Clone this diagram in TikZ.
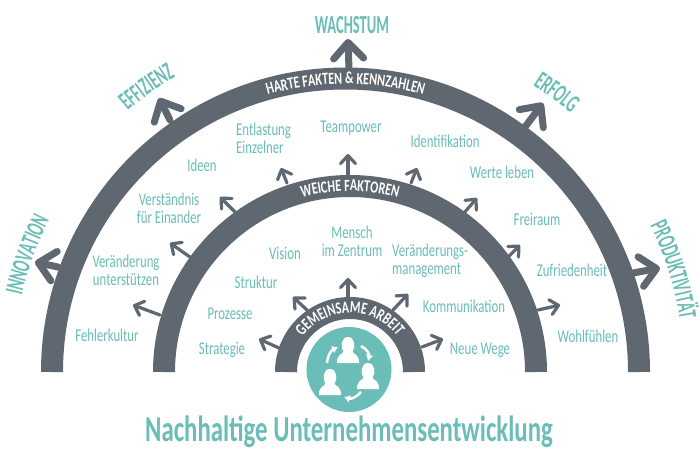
\documentclass[tikz,border=0pt]{standalone}
\usepackage{fontspec}
\usetikzlibrary{arrows.meta,decorations.text}
\newfontfamily\din[FakeStretch=.71]{Carlito}
\newfontfamily\dinband[FakeStretch=.71]{Carlito}
\newfontfamily\dinhead[FakeStretch=.56]{Carlito}
\newfontfamily\dintitle[FakeStretch=.68]{Carlito}
\definecolor{ink}{HTML}{5F6770}
\definecolor{teal}{HTML}{6BBDB7}
\newcommand{\bandfont}{\dinband\bfseries\fontsize{17}{17}\selectfont}
\newcommand{\headfont}{\dinhead\bfseries\fontsize{26}{26}\selectfont\color{teal}}
\tikzset{
  band/.style={draw=ink,line width=22pt},
  big/.style={draw=ink,line width=7pt,line cap=round,-{Straight Barb[round,length=16pt,width=30pt]}},
  small/.style={draw=ink,line width=3.2pt,line cap=round,-{Straight Barb[round,length=8pt,width=15pt]}},
  lab/.style={text=teal,font=\din\fontsize{18}{18}\selectfont,align=center,inner sep=0pt},
  swirl/.style={draw=white,line width=2.5pt,-{Latex[length=6pt,width=8pt]}},
  bust/.pic={\fill[white] (-11,0) .. controls (-11.5,-8) and (-6,-9) .. (-4.5,-11) .. controls (-8,-16) and (-7,-26) .. (0,-26) .. controls (7,-26) and (8,-16) .. (4.5,-11) .. controls (6,-9) and (11.5,-8) .. (11,0) -- cycle;}
}
\begin{document}
\begin{tikzpicture}[x=1pt,y=-1pt]
\useasboundingbox (0,0) rectangle (700,461);
\fill[white] (0,0) rectangle (700,461);
\coordinate (c) at (350,372);
\coordinate (co) at (345.5,372);
% bands
\draw[band] (co) ++(-293.5,0) arc (180:360:293.5);
\draw[band] (c) ++(-186,0) arc (180:360:186);
\draw[band] (c) ++(-64,0) arc (180:360:64);
% outer arrows
\foreach \n/\ax/\ay/\bx/\by in {a/58/267/35/262,b/170/120/159/98,d/349/70/348/39,e/525/127/543/103,f/633/273/660/268}{
  \coordinate (\n0) at (\ax,\ay); \coordinate (\n1) at (\bx,\by);
  \draw[big] (\n0) -- (\n1);
}
% middle arrows
\foreach \n/\ax/\ay/\bx/\by in {g/160/315/133/305,h/190/257/170/243,i/235/212/220/197,j/287/183/281/168,k/348/175/348/154,l/411/183/417/168,m/464/213/477/198,n/508/257/520/245,o/538/310/560/305}{
  \coordinate (\n0) at (\ax,\ay); \coordinate (\n1) at (\bx,\by);
  \draw[small] (\n0) -- (\n1);
}
% inner arrows
\foreach \n/\ax/\ay/\bx/\by in {p/279/348/259/339,q/307/310/293/297,r/348/299/348/278,s/393/310/408/294,t/422/347/443/339}{
  \coordinate (\n0) at (\ax,\ay); \coordinate (\n1) at (\bx,\by);
  \draw[small] (\n0) -- (\n1);
}
% band texts
\path[decorate,decoration={text along path,text align=center,text color=white,text={|\bandfont|HARTE FAKTEN {\&} KENNZAHLEN}}] (co) ++(245:288) arc (245:295:288);
\path[decorate,decoration={text along path,text align=center,text color=white,text={|\bandfont|WEICHE FAKTOREN}}] (c) ++(230:181) arc (230:310:181);
\path[decorate,decoration={text along path,text align=center,text color=white,text={|\bandfont|GEMEINSAME ARBEIT}}] (c) ++(190:59) arc (190:350:59);
% heads
\path[decorate,decoration={text along path,text align=center,text={|\headfont|INNOVATION}}] (c) ++(185:337) arc (185:215:337);
\path[decorate,decoration={text along path,text align=center,text={|\headfont|EFFIZIENZ}}] (c) ++(220:343) arc (220:249:343);
\node[inner sep=0pt,font=\headfont] (wachstum) at (352,25) {WACHSTUM};
\path[decorate,decoration={text along path,text align=center,text={|\headfont|ERFOLG}}] (c) ++(292:340) arc (292:321:340);
\path[decorate,decoration={text along path,text align=center,text={|\headfont|PRODUKTIVITÄT}}] (c) ++(323:334) arc (323:362:334);
% labels
\node[lab] (l1) at (107,335) {Fehlerkultur};
\node[lab] (l2) at (126,270) {Veränderung\\unterstützen};
\node[lab] (l3) at (169,208) {Verständnis\\für Einander};
\node[lab] (l4) at (202,165) {Ideen};
\node[lab,align=left,anchor=west] (l5) at (236,138) {Entlastung\\Einzelner};
\node[lab] (l6) at (351,128) {Teampower};
\node[lab] (l7) at (445,141) {Identifikation};
\node[lab] (l8) at (502,172) {Werte leben};
\node[lab] (l9) at (537,219) {Freiraum};
\node[lab] (l10) at (572,270) {Zufriedenheit};
\node[lab] (l11) at (588,336) {Wohlfühlen};
\node[lab] (l12) at (222,350) {Strategie};
\node[lab] (l13) at (230,314) {Prozesse};
\node[lab] (l14) at (256,282) {Struktur};
\node[lab] (l15) at (285,253) {Vision};
\node[lab] (l16) at (352,241) {Mensch\\im Zentrum};
\node[lab,align=left,anchor=west] (l17) at (392,261) {Veränderungs-\\management};
\node[lab] (l18) at (464,306) {Kommunikation};
\node[lab] (l19) at (480,350) {Neue Wege};
\node[inner sep=0pt,text=teal,font=\dintitle\bfseries\fontsize{36.5}{36.5}\selectfont] (title) at (349,432) {Nachhaltige Unternehmensentwicklung};
% icon
\fill[teal] (349,369.5) circle (42.5);
\pic at (348,363) {bust};
\pic at (368,389) {bust};
\pic at (330,395) {bust};
\coordinate (s1a) at (327,363); \coordinate (s1b) at (338,347);
\coordinate (s2a) at (361,346); \coordinate (s2b) at (368,361);
\coordinate (s3a) at (361,392); \coordinate (s3b) at (344,397);
\draw[swirl] (s1a) to[bend left=30] (s1b);
\draw[swirl] (s2a) to[bend left=40] (s2b);
\draw[swirl] (s3a) to[bend left=35] (s3b);
\end{tikzpicture}
\end{document}
